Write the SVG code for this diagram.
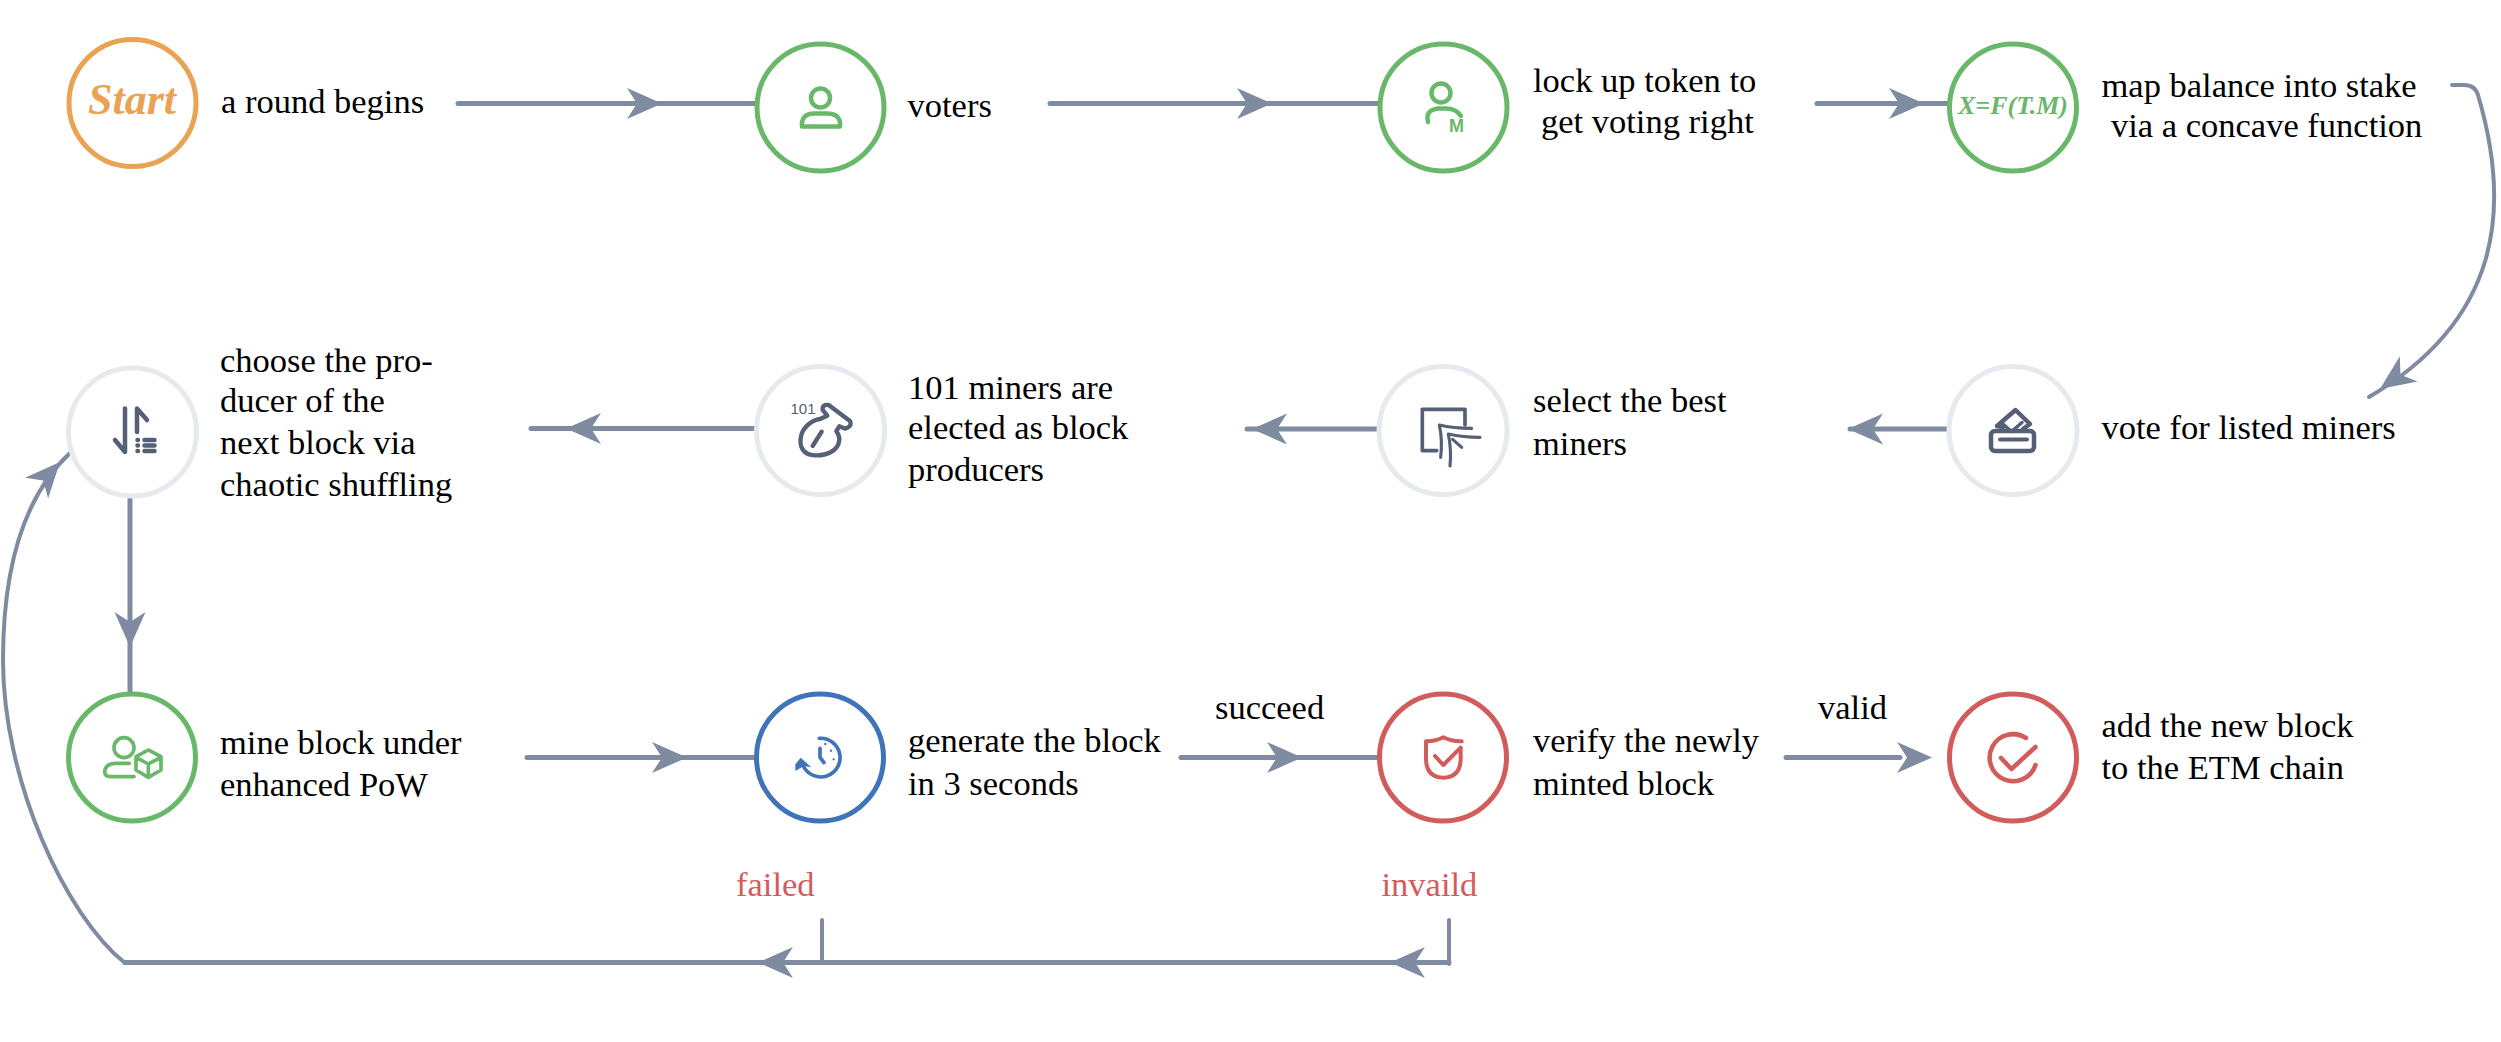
<svg xmlns="http://www.w3.org/2000/svg" width="2501" height="1042" viewBox="0 0 2501 1042">
<style>
text{font-family:"Liberation Serif","Times New Roman",serif;font-size:34.5px;fill:#000}
.ring{fill:#fff;stroke-width:5}
.g{stroke:#69b86a}.o{stroke:#eaa253}.n{stroke:#e6e9ee}.b{stroke:#3f74b8}.r{stroke:#d25c5c}
.ic{fill:none;stroke-linecap:round;stroke-linejoin:round}
.dk{stroke:#555f75}
.ln{fill:none;stroke:#7e8ba1;stroke-width:5;stroke-linecap:round}
.th{fill:none;stroke:#7e8ba1;stroke-width:4;stroke-linecap:round}
.ah{fill:#7e8ba1}
.bi{font-weight:bold;font-style:italic}
</style>
<defs>
<path id="ah" class="ah" d="M-35,-15.5 L0,0 L-35,15.5 L-25,0 Z"/>
</defs>
<rect width="2501" height="1042" fill="#fff"/>
<g id="connectors">
<path class="ln" d="M458,103.5H755"/>
<use href="#ah" transform="translate(662,103.5)"/>
<path class="ln" d="M1050,103.5H1378"/>
<use href="#ah" transform="translate(1272,103.5)"/>
<path class="ln" d="M1817,103.5H1948"/>
<use href="#ah" transform="translate(1924,103.5)"/>
<path class="th" d="M2452,85H2464Q2475,85 2478,95C2512,210 2500,320 2369,397"/>
<use href="#ah" transform="translate(2380,389) rotate(145)"/>
<path class="ln" d="M1948,429H1850"/>
<use href="#ah" transform="translate(1848,429) rotate(180)"/>
<path class="ln" d="M1377,429H1247"/>
<use href="#ah" transform="translate(1252,429) rotate(180)"/>
<path class="ln" d="M755,428.500H531"/>
<use href="#ah" transform="translate(566,428.500) rotate(180)"/>
<path class="ln" d="M130,499V691" stroke-linecap="butt"/>
<use href="#ah" transform="translate(130,647) rotate(90)"/>
<path class="ln" d="M527,757.500H755"/>
<use href="#ah" transform="translate(687,757.500)"/>
<path class="ln" d="M1181,757.500H1378"/>
<use href="#ah" transform="translate(1302,757.500)"/>
<path class="ln" d="M1786,757.500H1900"/>
<use href="#ah" transform="translate(1932,757.500)"/>
<path class="ln" d="M1449,962.500H125"/>
<path class="th" d="M125,963C65,915 3,780 3,660C3,570 22,498 70,453"/>
<use href="#ah" transform="translate(60,462) rotate(-48)"/>
<path class="th" d="M822,920V962"/>
<path class="th" d="M1449,920V964"/>
<use href="#ah" transform="translate(758,962.500) rotate(180)"/>
<use href="#ah" transform="translate(1390,962.500) rotate(180)"/>
</g>
<g id="start">
<circle class="ring o" cx="132.500" cy="103" r="63.500"/>
<text class="bi" x="88" y="114" style="font-size:44px;fill:#eaa253">Start</text>
<text x="221" y="113">a round begins</text>
</g>
<g id="voters">
<circle class="ring g" cx="820.500" cy="107.500" r="63.500"/>
<g class="ic g" stroke-width="4.500">
<circle cx="820.500" cy="98" r="9.500"/>
<path d="M802,126.500H840V122Q838,113.500 828,113.500H813Q804,113.500 802,122Z"/>
</g>
<text x="907.500" y="117">voters</text>
</g>
<g id="lock">
<circle class="ring g" cx="1443.500" cy="107.500" r="63.500"/>
<g class="ic g" stroke-width="4.500">
<circle cx="1441" cy="93" r="9.500"/>
<path d="M1428,122Q1425,110 1438,108.500H1446Q1456,108.500 1461,116"/>
</g>
<text x="1449" y="132" style="font-family:'Liberation Sans',sans-serif;font-size:18px;font-weight:bold;fill:#69b86a">M</text>
<text x="1533" y="92">lock up token to</text>
<text x="1541" y="133">get voting right</text>
</g>
<g id="map">
<circle class="ring g" cx="2013" cy="107.500" r="63.500"/>
<text class="bi" x="2013" y="113.500" text-anchor="middle" style="font-size:26px;fill:#69b86a">X=F(T.M)</text>
<text x="2101.500" y="97">map balance into stake</text>
<text x="2111" y="137">via a concave function</text>
</g>
<g id="vote">
<circle class="ring n" cx="2013" cy="430.500" r="64"/>
<g class="ic dk" stroke-width="4.500">
<rect x="1991" y="431" width="43" height="20" rx="4"/>
<path d="M2000,439.500H2027" stroke-width="4"/>
<path d="M2003,427L1997,426L2015.500,410L2030,424L2023,429" />
<path d="M2003.500,424.500L2011.500,431.500L2022,422.500" stroke-width="3.500"/>
</g>
<text x="2101.500" y="439">vote for listed miners</text>
</g>
<g id="select">
<circle class="ring n" cx="1443" cy="430.500" r="64"/>
<g transform="translate(1370,350) scale(.3333)">
<path class="ic dk" stroke-width="11" d="M285,225V178H157V302H200"/>
<path class="ic dk" stroke-width="9.500" d="M305,235Q250,235 208,225Q218,270 212,322M330,262Q280,262 235,252Q245,300 240,348M248,268L275,292"/>
</g>
<text x="1533" y="412">select the best</text>
<text x="1533" y="455">miners</text>
</g>
<g id="elected">
<circle class="ring n" cx="820.500" cy="430.500" r="64"/>
<g transform="translate(740,350) scale(.3333)">
<path class="ic dk" stroke-width="13" d="M262,197L248,180Q246,162 266,165L330,213Q337,230 316,236L298,229L289,243Q299,258 298,270C295,305 255,318 225,316C190,316 175,290 184,255C190,232 215,210 240,207Z"/>
<path class="ic dk" stroke-width="13" d="M218,288L245,245"/>
</g>
<text x="790.500" y="414" style="font-family:'Liberation Sans',sans-serif;font-size:15px;fill:#555f75">101</text>
<text x="908" y="399">101 miners are</text>
<text x="908" y="439">elected as block</text>
<text x="908" y="481">producers</text>
</g>
<g id="choose">
<circle class="ring n" cx="132.500" cy="432" r="64"/>
<g class="ic dk" stroke-width="4.500">
<path d="M125,408.500V452L115,440M137,432V408.500L147,420"/>
<path d="M144.500,440H154.500M144.500,445.500H154.500M144.500,451H154.500"/>
<path d="M137.500,440H138M137.500,445.500H138M137.500,451H138"/>
</g>
<text x="220" y="372">choose the pro-</text>
<text x="220" y="412">ducer of the</text>
<text x="220" y="454">next block via</text>
<text x="220" y="496">chaotic shuffling</text>
</g>
<g id="mine">
<circle class="ring g" cx="132" cy="757.500" r="63.500"/>
<g class="ic g" transform="translate(60,680) scale(.3333)" stroke-width="11">
<circle cx="192" cy="203" r="30"/>
<path d="M208,250H165Q135,252 134,275Q135,290 150,290H222"/>
<path d="M265,210L303,230V270L265,292L228,270V230ZM228,232L265,252L303,232M265,252V290"/>
</g>
<text x="220" y="754">mine block under</text>
<text x="220" y="796">enhanced PoW</text>
</g>
<g id="generate">
<circle class="ring b" cx="820" cy="757.500" r="63.500"/>
<g transform="translate(740,680) scale(.3333)">
<g class="ic b" stroke-width="11">
<path d="M238,175A58,58 0 1 1 190,258"/>
<path d="M240,205V232L252,248"/>
</g>
<path d="M182,233L214,262L192,258L166,273V253Z" fill="#3f74b8"/>
<path d="M256,192h.1M273,212h.1M281,238h.1" class="ic b" stroke-width="7"/>
</g>
<text x="908" y="752">generate the block</text>
<text x="908" y="795">in 3 seconds</text>
</g>
<g id="verify">
<circle class="ring r" cx="1443" cy="757.500" r="63.500"/>
<g class="ic r" transform="translate(1370,680) scale(.3333)" stroke-width="12">
<path d="M275,184Q245,185 220,172Q195,185 168,184V235Q168,292 220,293Q272,292 272,235V205"/>
<path d="M195,228L220,255L272,203"/>
</g>
<text x="1533" y="752">verify the newly</text>
<text x="1533" y="795">minted block</text>
</g>
<g id="add">
<circle class="ring r" cx="2013" cy="757.500" r="63.500"/>
<g class="ic r" stroke-width="4.500">
<path d="M2026,738A23.500,23.500 0 1 0 2035.500,765"/>
<path d="M2001,758L2011.500,769L2035.500,747"/>
</g>
<text x="2101.500" y="737">add the new block</text>
<text x="2101.500" y="779">to the ETM chain</text>
</g>
<g id="edge-labels">
<text x="1215" y="719">succeed</text>
<text x="1818" y="719">valid</text>
<text x="736" y="896" style="fill:#d25c5c">failed</text>
<text x="1381.500" y="896" style="fill:#d25c5c">invaild</text>
</g>
</svg>
